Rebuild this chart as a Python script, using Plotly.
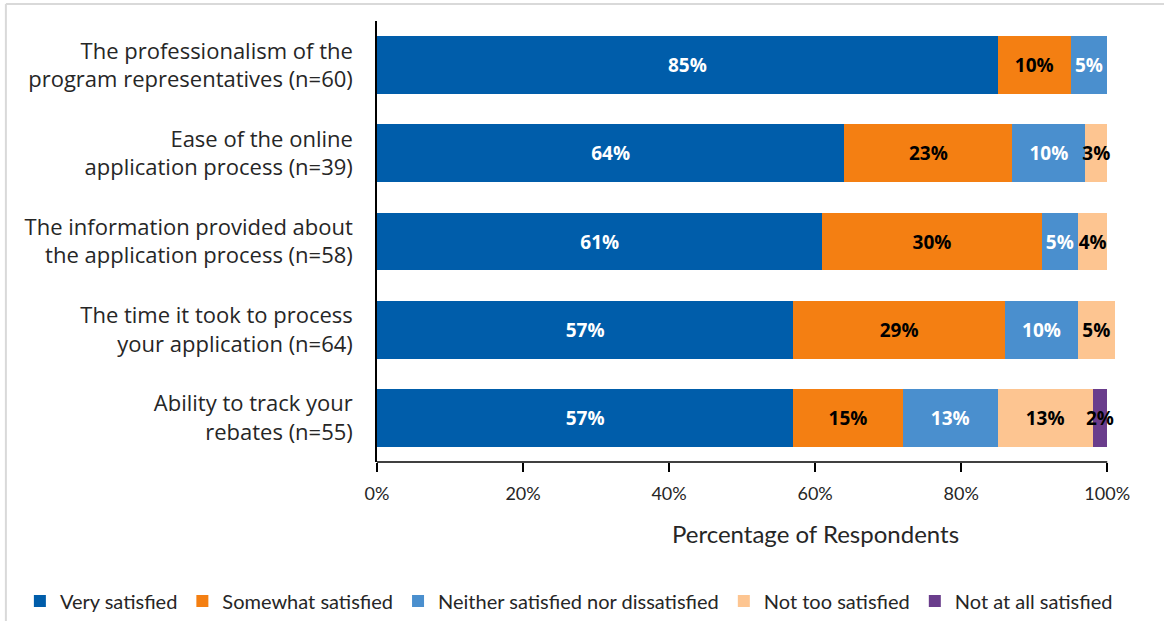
import plotly.graph_objects as go

# Survey items (top to bottom) and their response shares (%)
categories = [
    "The professionalism of the<br>program representatives (n=60)",
    "Ease of the online<br>application process (n=39)",
    "The information provided about<br>the application process (n=58)",
    "The time it took to process<br>your application (n=64)",
    "Ability to track your<br>rebates (n=55)",
]
very_satisfied = [85, 64, 61, 57, 57]
somewhat_satisfied = [10, 23, 30, 29, 15]
neither = [5, 10, 5, 10, 13]
not_too_satisfied = [0, 3, 4, 5, 13]
not_at_all_satisfied = [0, 0, 0, 0, 2]

series_names = [
    "Very satisfied",
    "Somewhat satisfied",
    "Neither satisfied nor dissatisfied",
    "Not too satisfied",
    "Not at all satisfied",
]
series_values = [very_satisfied, somewhat_satisfied, neither,
                 not_too_satisfied, not_at_all_satisfied]
colors = ["#005DAA", "#F47F12", "#4A8FCE", "#FDC591", "#6A3D8C"]
text_colors = ["white", "black", "white", "black", "black"]

tick_vals = [0, 20, 40, 60, 80, 100]
tick_text = ["0%", "20%", "40%", "60%", "80%", "100%"]
x_max = 101.2  # leaves room for rows whose rounded shares sum past 100

W, H = 1164, 621
L, T, B = 377, 21, 159
px_per_pct = 7.3
pw = px_per_pct * x_max
R = W - L - pw
ph = H - T - B


def px_to_paper_x(px):
    return (px - L) / pw


def px_to_paper_y(py):
    return (H - B - py) / ph


fig = go.Figure()
for name, vals, col, tcol in zip(series_names, series_values, colors, text_colors):
    fig.add_trace(go.Bar(
        y=categories,
        x=vals,
        name=name,
        orientation="h",
        marker=dict(color=col, line=dict(width=0)),
        text=[f"{v}%" if v > 0 else "" for v in vals],
        textposition="inside",
        insidetextanchor="middle",
        constraintext="none",
        textangle=0,
        textfont=dict(family="Open Sans", size=19, color=tcol, weight="bold"),
        cliponaxis=False,
        hoverinfo="skip",
    ))

fig.update_layout(
    width=W, height=H,
    barmode="stack",
    bargap=0.345,
    plot_bgcolor="white",
    paper_bgcolor="white",
    margin=dict(l=L, r=R, t=T, b=B, pad=0, autoexpand=False),
    font=dict(family="Open Sans", color="#262626"),
    xaxis=dict(
        range=[0, x_max],
        tickvals=tick_vals,
        ticktext=tick_text,
        ticks="outside",
        ticklen=9,
        tickwidth=1.5,
        tickcolor="black",
        ticklabelstandoff=6,
        showline=False,
        showgrid=False,
        zeroline=False,
        automargin=False,
        tickfont=dict(family="Lato", size=18, color="#262626"),
    ),
    xaxis2=dict(
        range=[0, x_max],
        overlaying="x",
        matches="x",
        side="bottom",
        anchor="y",
        tickvals=tick_vals,
        ticks="inside",
        ticklen=7,
        tickwidth=1.5,
        tickcolor="black",
        showticklabels=False,
        showgrid=False,
        zeroline=False,
        showline=False,
    ),
    yaxis=dict(
        autorange="reversed",
        showline=True,
        linecolor="black",
        linewidth=1.5,
        ticks="",
        ticklabelstandoff=18,
        showgrid=False,
        automargin=False,
        tickfont=dict(family="Open Sans", size=22, color="#262626"),
    ),
    legend=dict(
        orientation="h",
        x=px_to_paper_x(20), xanchor="left",
        y=px_to_paper_y(601), yanchor="middle",
        traceorder="normal",
        font=dict(family="Lato", size=20, color="#262626"),
        itemwidth=30,
        tracegroupgap=0,
    ),
    annotations=[dict(
        text="Percentage of Respondents",
        xref="paper", yref="paper",
        x=px_to_paper_x(815), y=px_to_paper_y(533),
        xanchor="center", yanchor="middle",
        showarrow=False,
        font=dict(family="Lato", size=24, color="#262626"),
    )],
    shapes=[
        # x-axis baseline from 0% to 100%
        dict(type="line", xref="x", yref="paper",
             x0=tick_vals[0], x1=tick_vals[-1], y0=0, y1=0,
             line=dict(color="black", width=1.5)),
        # light frame along the top and left edges
        dict(type="line", xref="paper", yref="paper",
             x0=px_to_paper_x(6), x1=px_to_paper_x(W),
             y0=px_to_paper_y(4), y1=px_to_paper_y(4),
             line=dict(color="#D9D9D9", width=2)),
        dict(type="line", xref="paper", yref="paper",
             x0=px_to_paper_x(6), x1=px_to_paper_x(6),
             y0=px_to_paper_y(4), y1=px_to_paper_y(H),
             line=dict(color="#D9D9D9", width=2)),
    ],
    showlegend=True,
)

fig.write_html("out.html")
